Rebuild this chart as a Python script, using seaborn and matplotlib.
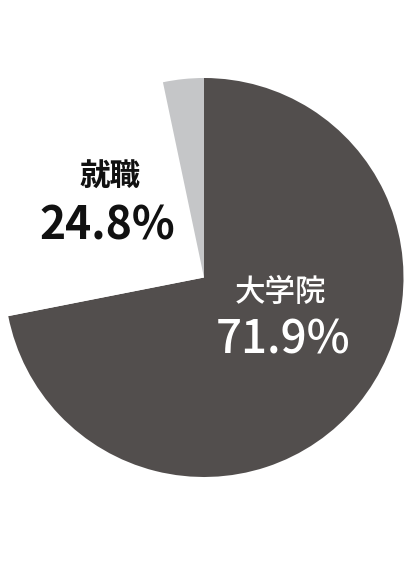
import matplotlib
matplotlib.use("Agg")
import matplotlib.pyplot as plt
import seaborn as sns

# shares of graduates by path
labels = ['大学院', '就職', 'その他']
shares = [71.9, 24.8, 3.3]
colors = ['#524e4d', '#ffffff', '#c5c6c8']

sns.set_theme(style='white')
plt.rcParams['font.family'] = ['Noto Sans CJK JP', 'DejaVu Sans']

W, H = 404, 569
CX, CY, R = 204, 277.5, 199.5

fig = plt.figure(figsize=(W / 100, H / 100), dpi=100)
ax = fig.add_axes([0, 0, 1, 1])
ax.pie(shares, colors=colors, startangle=90, counterclock=False,
       radius=1, wedgeprops={'linewidth': 0})
ax.set_xlim(-CX / R, (W - CX) / R)
ax.set_ylim(-(H - CY) / R, CY / R)
ax.set_aspect('equal')
ax.axis('off')


def px(x, y):
    return (x - CX) / R, (CY - y) / R


ax.text(*px(110, 176), labels[1], ha='center', va='center',
        fontsize=22, fontweight='bold', color='#111111')
ax.text(*px(107, 227), f'{shares[1]}%', ha='center', va='center',
        fontsize=32, fontweight='bold', color='#111111')
ax.text(*px(281, 292), labels[0], ha='center', va='center',
        fontsize=22, fontweight='medium', color='white')
ax.text(*px(283, 340), f'{shares[0]}%', ha='center', va='center',
        fontsize=33, fontweight='medium', color='white')

fig.savefig('out.png', dpi=100, facecolor='white')
